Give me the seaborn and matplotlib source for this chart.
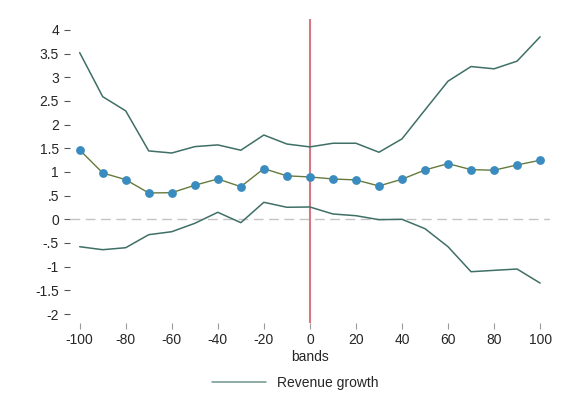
import numpy as np
import pandas as pd
import matplotlib
matplotlib.use("Agg")
import matplotlib.pyplot as plt
import seaborn as sns

# Distance bands and estimated revenue growth with confidence bounds
bands = [-100, -90, -80, -70, -60, -50, -40, -30, -20, -10, 0,
         10, 20, 30, 40, 50, 60, 70, 80, 90, 100]
estimate = [1.465, 0.979, 0.837, 0.556, 0.562, 0.719, 0.852, 0.689, 1.07, 0.918, 0.894,
            0.852, 0.831, 0.704, 0.846, 1.042, 1.176, 1.049, 1.036, 1.148, 1.247]
upper = [3.52, 2.59, 2.29, 1.444, 1.40, 1.535, 1.571, 1.459, 1.78, 1.59, 1.529,
         1.606, 1.606, 1.416, 1.698, 2.31, 2.917, 3.226, 3.178, 3.34, 3.854]
lower = [-0.579, -0.642, -0.60, -0.325, -0.262, -0.085, 0.148, -0.071, 0.359, 0.254, 0.26,
         0.112, 0.076, -0.008, 0.0, -0.198, -0.579, -1.107, -1.078, -1.05, -1.347]

ytick_vals = [4, 3.5, 3, 2.5, 2, 1.5, 1, 0.5, 0, -0.5, -1, -1.5, -2]
ytick_labels = ["4", "3.5", "3", "2.5", "2", "1.5", "1", ".5", "0", "-.5", "-1", "-1.5", "-2"]
xtick_vals = [-100, -80, -60, -40, -20, 0, 20, 40, 60, 80, 100]

df = pd.DataFrame({"bands": bands, "estimate": estimate, "upper": upper, "lower": lower})

sns.set_style("white")
plt.rcParams["font.family"] = ["Liberation Sans", "DejaVu Sans"]

ci_color = "#3f6f66"
mean_color = "#667a3c"
dot_color = "#3a8bbf"
ref_color = "#d47885"

fig = plt.figure(figsize=(5.61, 4.15), dpi=100)
ax = fig.add_axes([70 / 561, 1 - 323 / 415, 480 / 561, 304 / 415])

ax.axhline(0, color="#c4c4c4", lw=1.0, dashes=(7, 4), zorder=1)
ax.axvline(0, color=ref_color, lw=1.5, zorder=2)

sns.lineplot(data=df, x="bands", y="upper", ax=ax, color=ci_color, lw=1.1, zorder=3)
sns.lineplot(data=df, x="bands", y="lower", ax=ax, color=ci_color, lw=1.1, zorder=3)
sns.lineplot(data=df, x="bands", y="estimate", ax=ax, color=mean_color, lw=1.0, zorder=4)
sns.scatterplot(data=df, x="bands", y="estimate", ax=ax, color=dot_color, s=40,
                edgecolor=dot_color, linewidth=0, zorder=5)

ax.set_xlim(-104.2, 104.3)
ax.set_ylim(-2.19, 4.23)
ax.set_yticks(ytick_vals)
ax.set_yticklabels(ytick_labels)
ax.set_xticks(xtick_vals)
ax.set_xticklabels([str(v) for v in xtick_vals])
ax.tick_params(axis="y", length=4, width=0.8, color="#555555", pad=4, labelsize=10,
               direction="out", left=True)
ax.tick_params(axis="x", length=4.5, width=0.8, color="#999999", pad=3, labelsize=10,
               direction="out", bottom=True)
for s in ax.spines.values():
    s.set_visible(False)
ax.set_xlabel("bands", fontsize=10, labelpad=2)
ax.set_ylabel("")

handle = plt.Line2D([], [], color=ci_color, lw=1.1, alpha=0.75)
fig.legend([handle], ["Revenue growth"], loc="center",
           bbox_to_anchor=(295 / 561, 1 - 383 / 415), frameon=False,
           handlelength=3.9, fontsize=10)

fig.savefig("out.png", dpi=100)
